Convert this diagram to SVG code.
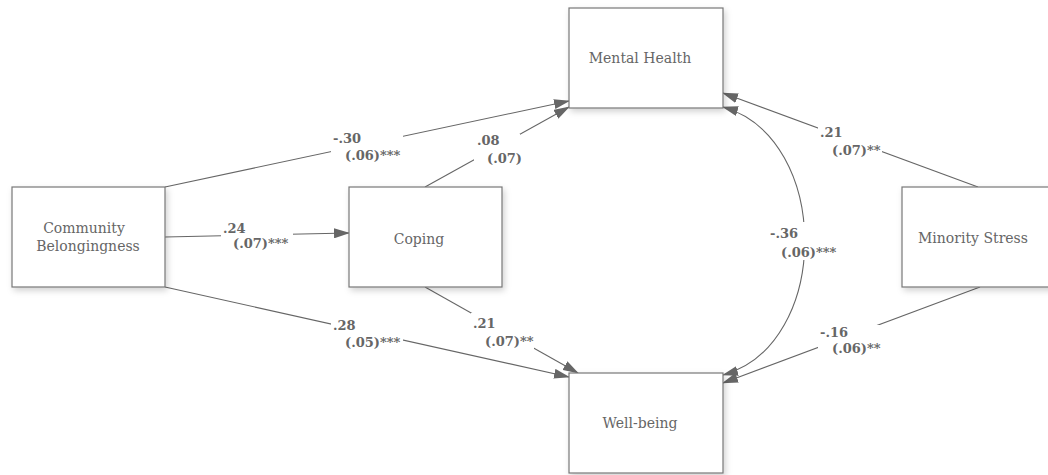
<svg xmlns="http://www.w3.org/2000/svg" width="1048" height="475" viewBox="0 0 1048 475">
<defs>
<filter id="sh" x="-10%" y="-10%" width="130%" height="130%">
<feDropShadow dx="2" dy="3" stdDeviation="3" flood-color="#000" flood-opacity="0.18"/>
</filter>
<marker id="ah" markerWidth="16" markerHeight="10" refX="15" refY="5" orient="auto" markerUnits="userSpaceOnUse">
<path d="M0,0 L16,5 L0,10 Z" fill="#666"/>
</marker>
<marker id="ahs" markerWidth="16" markerHeight="10" refX="15" refY="5" orient="auto-start-reverse" markerUnits="userSpaceOnUse">
<path d="M0,0 L16,5 L0,10 Z" fill="#666"/>
</marker>
</defs>
<style>
.box{fill:#fff;stroke:#777;stroke-width:1.2;filter:url(#sh)}
.nt{font-family:"DejaVu Serif","Liberation Serif",serif;font-size:14px;fill:#666;text-anchor:middle}
.ln{fill:none;stroke:#666;stroke-width:1.1}
.lb{font-family:"DejaVu Serif","Liberation Serif",serif;font-size:13px;font-weight:bold;fill:#666}
.bg{fill:#fff}
</style>
<rect width="1048" height="475" fill="#fff"/>
<g id="connectors">
<path class="ln" d="M165,187 L569,101" marker-end="url(#ah)"/>
<path class="ln" d="M425,187 L569,107" marker-end="url(#ah)"/>
<path class="ln" d="M165,237 L349,233" marker-end="url(#ah)"/>
<path class="ln" d="M165,287 L569,377" marker-end="url(#ah)"/>
<path class="ln" d="M425,287 L578,373" marker-end="url(#ah)"/>
<path class="ln" d="M978,187 L723,93" marker-end="url(#ah)"/>
<path class="ln" d="M980,287 L723,383" marker-end="url(#ah)"/>
<path class="ln" d="M723,107 C832,138 832,345 723,375" marker-start="url(#ahs)" marker-end="url(#ah)"/>
<g id="labels">
<rect class="bg" x="331" y="128" width="72" height="36"/>
<text class="lb" x="333" y="143">-.30</text><text class="lb" x="345" y="160">(.06)***</text>
<rect class="bg" x="474" y="134" width="46" height="28"/>
<text class="lb" x="477" y="145">.08</text><text class="lb" x="487" y="163">(.07)</text>
<rect class="bg" x="221" y="219" width="72" height="32"/>
<text class="lb" x="223" y="233">.24</text><text class="lb" x="233" y="248">(.07)***</text>
<rect class="bg" x="331" y="315" width="72" height="34"/>
<text class="lb" x="333" y="330">.28</text><text class="lb" x="345" y="347">(.05)***</text>
<rect class="bg" x="471" y="313" width="63" height="36"/>
<text class="lb" x="473" y="328">.21</text><text class="lb" x="485" y="346">(.07)**</text>
<rect class="bg" x="818" y="125" width="64" height="32"/>
<text class="lb" x="820" y="137">.21</text><text class="lb" x="832" y="155">(.07)**</text>
<rect class="bg" x="768" y="222" width="72" height="38"/>
<text class="lb" x="770" y="238">-.36</text><text class="lb" x="781" y="257">(.06)***</text>
<rect class="bg" x="818" y="325" width="64" height="30"/>
<text class="lb" x="820" y="337">-.16</text><text class="lb" x="832" y="353">(.06)**</text>
</g>
</g>
<g id="mental-health">
<rect class="box" x="569" y="8" width="154" height="100"/>
<text class="nt" x="640" y="63">Mental Health</text>
</g>
<g id="well-being">
<rect class="box" x="569" y="373" width="154" height="100"/>
<text class="nt" x="640" y="428">Well-being</text>
</g>
<g id="community-belongingness">
<rect class="box" x="12" y="187" width="153" height="100"/>
<text class="nt" x="84" y="233">Community</text>
<text class="nt" x="88" y="251">Belongingness</text>
</g>
<g id="coping">
<rect class="box" x="349" y="187" width="153" height="100"/>
<text class="nt" x="419" y="244">Coping</text>
</g>
<g id="minority-stress">
<rect class="box" x="902" y="187" width="154" height="100"/>
<text class="nt" x="973" y="243">Minority Stress</text>
</g>
</svg>
